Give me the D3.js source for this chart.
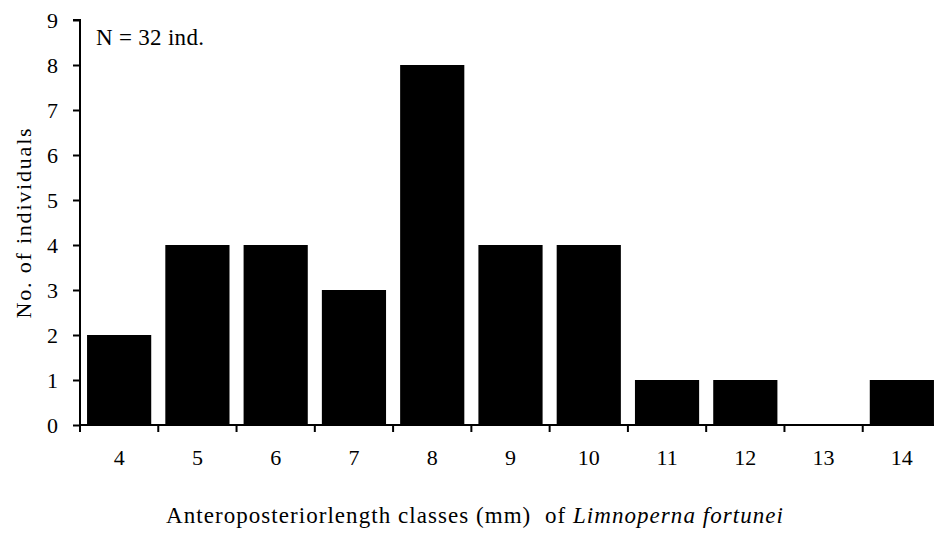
<!DOCTYPE html>
<html>
<head>
<meta charset="utf-8">
<script src="https://cdn.jsdelivr.net/npm/d3@7"></script>
<style>
  body { margin: 0; background: #fff; }
  text { font-family: "Liberation Serif", "Times New Roman", serif; fill: #000; }
</style>
</head>
<body>
<svg id="chart" width="934" height="538"></svg>
<script>
// length classes (mm) and counts
const classes = ["4", "5", "6", "7", "8", "9", "10", "11", "12", "13", "14"];
const counts = [2, 4, 4, 3, 8, 4, 4, 1, 1, 0, 1];
const yTicks = [0, 1, 2, 3, 4, 5, 6, 7, 8, 9];

const margin = { top: 20, left: 80 };
const plotW = 861;
const plotH = 405;

const svg = d3.select("#chart");
const g = svg.append("g")
    .attr("transform", "translate(" + margin.left + "," + margin.top + ")");

const x = d3.scaleBand()
    .domain(classes)
    .range([0, plotW])
    .paddingInner(0.18)
    .paddingOuter(0.09);

const y = d3.scaleLinear()
    .domain([0, 9])
    .range([plotH, 0]);

// bars
g.selectAll(".bar")
    .data(classes)
    .enter().append("rect")
    .attr("class", "bar")
    .attr("x", function (d) { return x(d); })
    .attr("y", function (d, i) { return y(counts[i]); })
    .attr("width", x.bandwidth())
    .attr("height", function (d, i) { return plotH - y(counts[i]); })
    .attr("fill", "#000");

// y axis
const yAxis = g.append("g")
    .call(d3.axisLeft(y).tickValues(yTicks).tickSize(7).tickPadding(15).tickFormat(d3.format("d")));
yAxis.select(".domain").attr("stroke-width", 2).attr("d", "M0," + plotH + "V0H-7");
yAxis.selectAll(".tick line").attr("stroke-width", 2);
yAxis.selectAll(".tick text").style("font-size", "22px");

// x axis: labels at centres, ticks at class boundaries
const xAxis = g.append("g")
    .attr("transform", "translate(0," + plotH + ")")
    .call(d3.axisBottom(x).tickSize(0).tickPadding(24));
xAxis.select(".domain").attr("stroke-width", 2).attr("d", "M0,0H" + plotW);
xAxis.selectAll(".tick text").style("font-size", "22px");

const step = x.step();
xAxis.selectAll(".bound")
    .data(d3.range(classes.length + 1))
    .enter().append("line")
    .attr("class", "bound")
    .attr("x1", function (i) { return i * step; })
    .attr("x2", function (i) { return i * step; })
    .attr("y1", 0)
    .attr("y2", 7)
    .attr("stroke", "#000")
    .attr("stroke-width", 2);

// annotation
g.append("text")
    .attr("x", 16)
    .attr("y", 25)
    .style("font-size", "23px")
    .style("letter-spacing", "0.3px")
    .text("N = 32 ind.");

// axis titles
svg.append("text")
    .attr("transform", "translate(31," + (margin.top + plotH / 2) + ") rotate(-90)")
    .attr("text-anchor", "middle")
    .style("font-size", "22px")
    .style("letter-spacing", "1.8px")
    .text("No. of individuals");

const xt = svg.append("text")
    .attr("x", 475)
    .attr("y", 523)
    .attr("text-anchor", "middle")
    .style("font-size", "23px")
    .style("letter-spacing", "1.05px")
    .style("white-space", "pre");
xt.append("tspan").text("Anteroposteriorlength classes (mm)  of ");
xt.append("tspan").style("font-style", "italic").text("Limnoperna fortunei");
</script>
</body>
</html>
